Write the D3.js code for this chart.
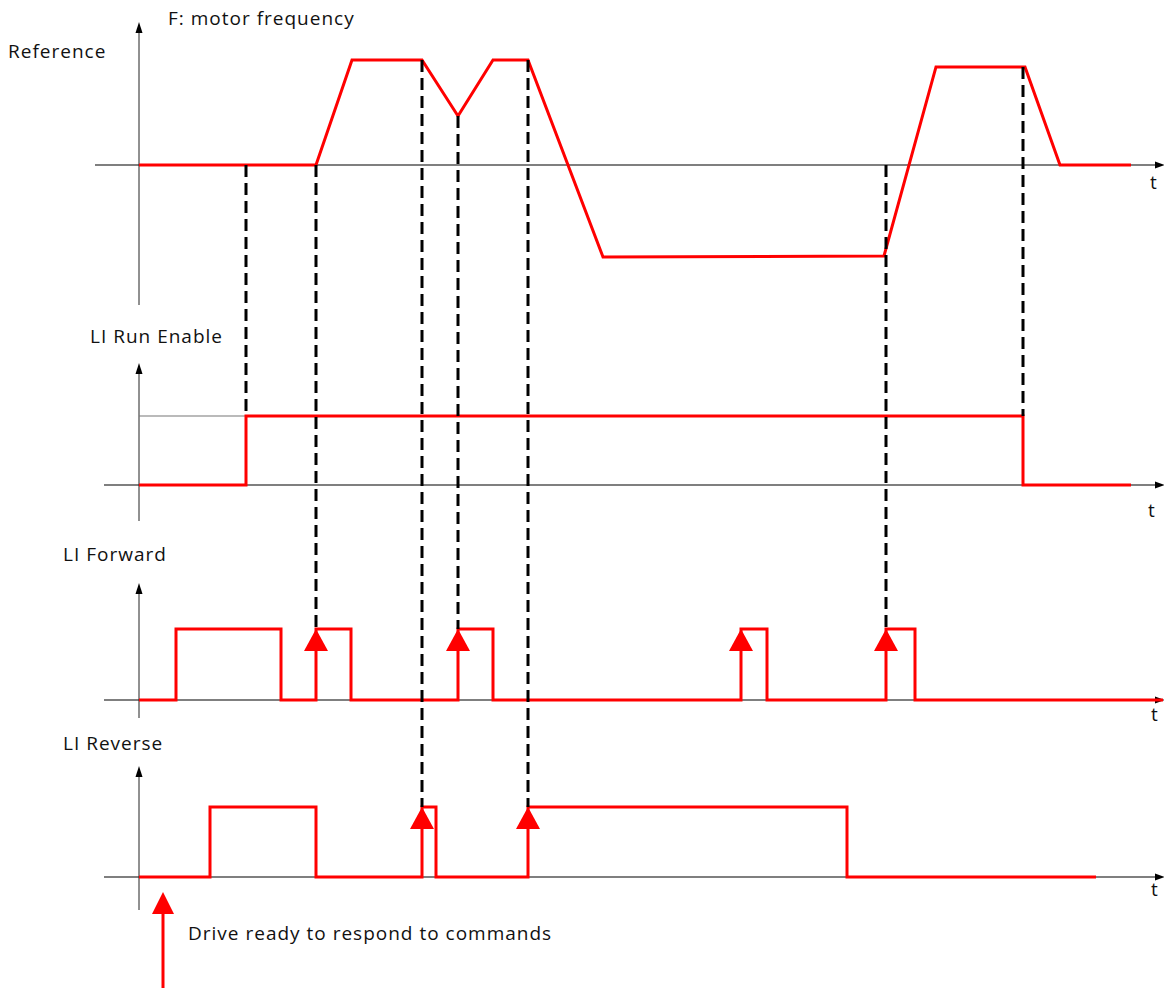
<!DOCTYPE html>
<html>
<head>
<meta charset="utf-8">
<script src="https://cdn.jsdelivr.net/npm/d3@7"></script>
<style>
  html, body { margin: 0; background: #fff; }
  svg { display: block; }
  text { font-family: "Open Sans", "Noto Sans", sans-serif; fill: #111; letter-spacing: 1px; }
</style>
</head>
<body>
<script>
// Shared time axis (arbitrary units) for all four traces
const timeDomain = [0, 1024];

// Motor frequency (Hz): breakpoints of the piecewise-linear profile
const freqTimes  = [0, 177, 213, 283, 319, 354, 389, 464, 745, 797, 886, 921, 992];
const freqValues = [0, 0, 50, 50, 23.3, 50, 50, -43.8, -43.3, 46.7, 46.7, 0, 0];

// Logic inputs: time of each level change and the level that follows it
const runEnableTimes  = [0, 107, 884, 992];
const runEnableLevels = [0, 1, 0, 0];
const forwardTimes  = [0, 37, 142, 177, 212, 319, 354, 602, 628, 747, 776, 1024];
const forwardLevels = [0, 1, 0, 1, 0, 1, 0, 1, 0, 1, 0, 0];
const reverseTimes  = [0, 71, 177, 283, 297, 389, 708, 957];
const reverseLevels = [0, 1, 0, 1, 0, 1, 0, 0];

// Rising edges that act as run commands
const forwardEdges = [177, 319, 602, 747];
const reverseEdges = [283, 389];
const driveReadyTime = 24;

// Cause/effect links drawn as dashed verticals: [trace, value] at each end
const linkTimes = [107, 177, 283, 319, 389, 747, 884];
const linkFrom  = [["freq", 0], ["freq", 0], ["freq", 50], ["freq", 23.3], ["freq", 50], ["freq", 0], ["freq", 46.7]];
const linkTo    = [["run", 1], ["fwd", 1], ["rev", 1], ["fwd", 1], ["rev", 1], ["fwd", 1], ["run", 1]];

// Texts
const titleText  = "F: motor frequency";
const panelNames = ["Reference", "LI Run Enable", "LI Forward", "LI Reverse"];
const timeLabel  = "t";
const noteText   = "Drive ready to respond to commands";

// ---------------------------------------------------------------------------
const W = 1164, H = 989;
const RED = "#ff0000";
const AXIS = "#555";
const FS = 19;

const svg = d3.select("body").append("svg").attr("width", W).attr("height", H);

const x = d3.scaleLinear().domain(timeDomain).range([139, 1163]);

// Per-trace vertical layout
const panels = {
  freq: { y: d3.scaleLinear().domain([0, 50]).range([165, 60]), axisTop: 22, axisBottom: 305, xStart: 95,
          name: panelNames[0], nameX: 8, nameY: 58, tX: 1150, tY: 189 },
  run:  { y: d3.scaleLinear().domain([0, 1]).range([485, 416]), axisTop: 363, axisBottom: 521, xStart: 104,
          name: panelNames[1], nameX: 90, nameY: 343, tX: 1148, tY: 517 },
  fwd:  { y: d3.scaleLinear().domain([0, 1]).range([700, 629]), axisTop: 583, axisBottom: 718, xStart: 104,
          name: panelNames[2], nameX: 63, nameY: 561, tX: 1151, tY: 721 },
  rev:  { y: d3.scaleLinear().domain([0, 1]).range([877, 807]), axisTop: 766, axisBottom: 910, xStart: 104,
          name: panelNames[3], nameX: 63, nameY: 750, tX: 1151, tY: 896 }
};

const axisG = svg.append("g");
Object.values(panels).forEach(p => {
  const y0 = p.y(0);
  // time axis
  axisG.append("line").attr("x1", p.xStart).attr("x2", x.range()[1] - 6)
    .attr("y1", y0).attr("y2", y0).attr("stroke", AXIS).attr("stroke-width", 1.3);
  axisG.append("path")
    .attr("d", `M${x.range()[1] + 2},${y0} l-10,-3.5 l0,7 Z`).attr("fill", "#000");
  // value axis
  axisG.append("line").attr("x1", x(0)).attr("x2", x(0))
    .attr("y1", p.axisTop + 8).attr("y2", p.axisBottom).attr("stroke", "#222").attr("stroke-width", 1);
  axisG.append("path")
    .attr("d", `M${x(0)},${p.axisTop} l-3.5,11 l7,0 Z`).attr("fill", "#000");
  // labels
  svg.append("text").attr("x", p.nameX).attr("y", p.nameY).attr("font-size", FS).text(p.name);
  svg.append("text").attr("x", p.tX).attr("y", p.tY).attr("font-size", FS).text(timeLabel);
});

svg.append("text").attr("x", 168).attr("y", 25).attr("font-size", FS).text(titleText);

// Run-enable high reference level
axisG.append("line")
  .attr("x1", x(0)).attr("x2", x(runEnableTimes[2]))
  .attr("y1", panels.run.y(1)).attr("y2", panels.run.y(1))
  .attr("stroke", "#777").attr("stroke-width", 1.2);

// Traces
const freqLine = d3.line().x(d => x(d[0])).y(d => panels.freq.y(d[1]));
svg.append("path")
  .attr("d", freqLine(d3.zip(freqTimes, freqValues)))
  .attr("fill", "none").attr("stroke", RED).attr("stroke-width", 3).attr("stroke-linejoin", "miter");

function stepTrace(times, levels, p) {
  const line = d3.line().curve(d3.curveStepAfter).x(d => x(d[0])).y(d => p.y(d[1]));
  svg.append("path")
    .attr("d", line(d3.zip(times, levels)))
    .attr("fill", "none").attr("stroke", RED).attr("stroke-width", 3).attr("stroke-linejoin", "miter");
}
stepTrace(runEnableTimes, runEnableLevels, panels.run);
stepTrace(forwardTimes, forwardLevels, panels.fwd);
stepTrace(reverseTimes, reverseLevels, panels.rev);

// Dashed cause/effect links
linkTimes.forEach((t, i) => {
  const a = panels[linkFrom[i][0]], b = panels[linkTo[i][0]];
  svg.append("line")
    .attr("x1", x(t)).attr("x2", x(t))
    .attr("y1", a.y(linkFrom[i][1])).attr("y2", b.y(linkTo[i][1]))
    .attr("stroke", "#000").attr("stroke-width", 3).attr("stroke-dasharray", "12,6");
});

// Edge arrowheads on command rising edges
function edgeArrows(edges, p) {
  edges.forEach(t => {
    const tipY = p.y(1);
    svg.append("path")
      .attr("d", `M${x(t)},${tipY} L${x(t) - 12},${tipY + 22} L${x(t) + 12},${tipY + 22} Z`)
      .attr("fill", RED);
  });
}
edgeArrows(forwardEdges, panels.fwd);
edgeArrows(reverseEdges, panels.rev);

// "Drive ready" marker below the reverse trace
const dx = x(driveReadyTime), tipY = 892;
svg.append("line").attr("x1", dx).attr("x2", dx).attr("y1", tipY + 20).attr("y2", 988)
  .attr("stroke", RED).attr("stroke-width", 3);
svg.append("path")
  .attr("d", `M${dx},${tipY} L${dx - 11},${tipY + 22} L${dx + 11},${tipY + 22} Z`)
  .attr("fill", RED);
svg.append("text").attr("x", 188).attr("y", 940).attr("font-size", FS).text(noteText);
</script>
</body>
</html>
